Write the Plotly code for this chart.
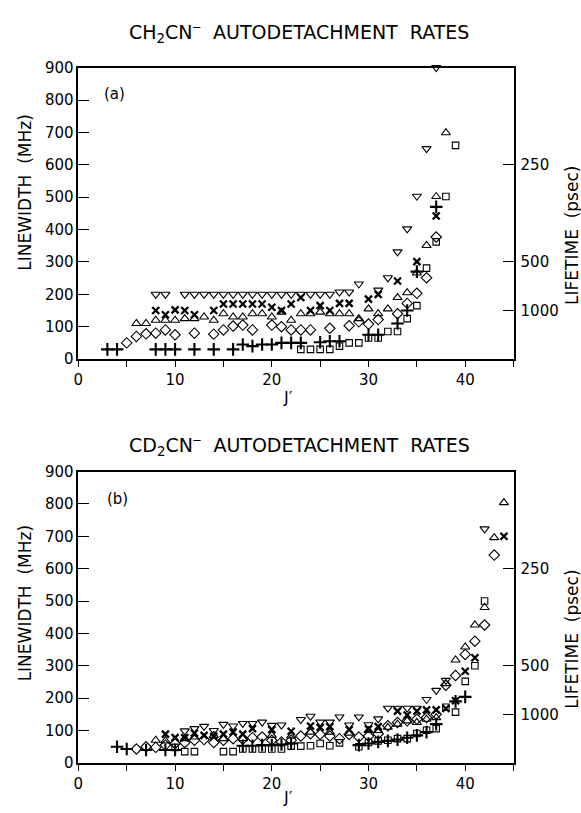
import plotly.graph_objects as go

W, H = 581, 813

# ---------------- data: panel (a) CH2CN- ----------------
a_tri_down_J = [8, 9, 11, 12, 13, 14, 15, 16, 17, 18, 19, 20, 21, 22, 23, 24, 25, 26, 27, 28, 29, 31, 32, 33, 34, 35, 36, 37]
a_tri_down_v = [200, 200, 200, 200, 200, 200, 200, 200, 200, 200, 200, 200, 200, 200, 200, 200, 200, 200, 207, 207, 232, 213, 251, 331, 402, 503, 650, 900]
a_x_J = [8, 9, 10, 11, 12, 14, 15, 16, 17, 18, 19, 20, 21, 22, 23, 24, 25, 26, 27, 28, 30, 31, 33, 35, 37]
a_x_v = [150, 137, 152, 150, 137, 150, 170, 170, 170, 170, 170, 160, 150, 170, 190, 150, 165, 150, 172, 172, 185, 200, 241, 301, 442]
a_tri_up_J = [6, 7, 8, 9, 10, 11, 12, 13, 14, 15, 16, 17, 18, 19, 20, 21, 22, 23, 24, 25, 26, 27, 28, 29, 30, 31, 32, 33, 34, 35, 36, 37, 38]
a_tri_up_v = [110, 110, 120, 120, 120, 125, 125, 130, 120, 140, 130, 130, 140, 140, 130, 145, 120, 140, 140, 145, 140, 140, 140, 125, 155, 140, 155, 190, 205, 266, 351, 502, 699]
a_dia_J = [5, 6, 7, 8, 9, 10, 12, 14, 15, 16, 17, 18, 20, 21, 22, 23, 24, 26, 28, 29, 30, 31, 33, 34, 35, 36, 37]
a_dia_v = [50, 70, 78, 80, 90, 75, 80, 77, 90, 102, 105, 90, 105, 100, 90, 90, 90, 95, 103, 115, 108, 122, 140, 172, 203, 251, 377]
a_plus_J = [3, 4, 8, 9, 10, 12, 14, 16, 17, 18, 19, 20, 21, 22, 23, 25, 26, 27, 30, 31, 33, 34, 35, 37]
a_plus_v = [30, 30, 30, 30, 30, 30, 30, 30, 45, 40, 45, 45, 50, 50, 50, 52, 55, 55, 75, 75, 110, 150, 270, 470]
a_sq_J = [23, 24, 25, 26, 27, 28, 29, 30, 31, 32, 33, 34, 35, 36, 37, 38, 39]
a_sq_v = [30, 30, 30, 30, 40, 50, 50, 65, 65, 85, 85, 125, 165, 281, 362, 502, 660]

# ---------------- data: panel (b) CD2CN- ----------------
b_tri_down_J = [11, 12, 13, 14, 15, 16, 17, 18, 19, 20, 21, 23, 24, 25, 26, 27, 28, 29, 30, 31, 32, 33, 34, 35, 36, 37, 38, 42]
b_tri_down_v = [99, 106, 113, 100, 119, 114, 122, 122, 126, 116, 117, 134, 144, 126, 126, 142, 117, 142, 118, 136, 169, 169, 169, 169, 196, 224, 255, 723]
b_x_J = [9, 10, 11, 12, 13, 14, 15, 16, 17, 18, 20, 22, 24, 25, 26, 28, 30, 31, 33, 34, 35, 36, 37, 38, 39, 40, 41, 44]
b_x_v = [89, 78, 78, 92, 85, 82, 89, 95, 89, 106, 103, 98, 114, 110, 112, 103, 105, 112, 160, 148, 160, 164, 164, 168, 192, 283, 325, 700]
b_tri_up_J = [8, 9, 11, 12, 14, 15, 17, 20, 22, 24, 26, 28, 30, 31, 32, 33, 34, 35, 36, 37, 38, 39, 40, 41, 42, 43, 44]
b_tri_up_v = [70, 68, 75, 80, 85, 75, 75, 85, 83, 95, 95, 92, 100, 100, 110, 120, 130, 125, 135, 140, 245, 318, 358, 426, 480, 696, 804]
b_dia_J = [6, 7, 8, 9, 10, 11, 12, 13, 14, 15, 16, 17, 18, 19, 20, 21, 22, 23, 24, 25, 26, 27, 28, 29, 30, 31, 32, 33, 34, 35, 36, 37, 38, 39, 40, 41, 42, 43]
b_dia_v = [43, 50, 48, 55, 60, 63, 70, 72, 63, 70, 75, 73, 78, 80, 70, 65, 70, 83, 90, 88, 83, 75, 88, 80, 83, 90, 115, 125, 130, 135, 140, 150, 240, 270, 335, 376, 426, 642]
b_plus_J = [4, 5, 7, 9, 10, 17, 18, 19, 20, 21, 22, 29, 30, 31, 32, 33, 34, 35, 36, 37, 39, 40]
b_plus_v = [50, 43, 40, 40, 40, 53, 53, 55, 55, 57, 60, 55, 60, 65, 68, 72, 78, 85, 95, 120, 190, 204]
b_sq_J = [10, 11, 12, 15, 16, 17, 18, 19, 20, 21, 22, 23, 24, 25, 26, 27, 29, 30, 31, 32, 33, 34, 35, 36, 37, 38, 39, 40, 41, 42]
b_sq_v = [48, 35, 35, 35, 35, 43, 43, 43, 43, 43, 52, 52, 53, 60, 53, 62, 50, 63, 68, 70, 75, 75, 91, 101, 106, 172, 157, 252, 300, 500]

# axis ticks
y_ticks = [0, 100, 200, 300, 400, 500, 600, 700, 800, 900]
x_ticks = [0, 10, 20, 30, 40]
life_tickvals = [150, 300, 600]      # linewidth (MHz) positions
life_ticktext = ["1000", "500", "250"]  # lifetime (psec)

titles = ["CH<sub>2</sub>CN<sup>\u2012</sup>  AUTODETACHMENT  RATES",
          "CD<sub>2</sub>CN<sup>\u2012</sup>  AUTODETACHMENT  RATES"]
panel_labels = ["(a)", "(b)"]

FONT = "DejaVu Sans"
BLACK = "black"


def px(x):
    return x / W


def py(y):
    return 1 - y / H


fig = go.Figure()

panels = [
    dict(xa="x", ya="y", y2="y2",
         series=[(a_tri_down_J, a_tri_down_v, "triangle-down-open", 8, 1.1),
                 (a_x_J, a_x_v, "x-thin", 7, 2.3),
                 (a_tri_up_J, a_tri_up_v, "triangle-up-open", 8, 1.1),
                 (a_dia_J, a_dia_v, "diamond-open", 8, 1.1),
                 (a_plus_J, a_plus_v, "cross-thin", 9, 2.1),
                 (a_sq_J, a_sq_v, "square-open", 6.5, 1.1)]),
    dict(xa="x2", ya="y3", y2="y4",
         series=[(b_tri_down_J, b_tri_down_v, "triangle-down-open", 8, 1.1),
                 (b_x_J, b_x_v, "x-thin", 7, 2.3),
                 (b_tri_up_J, b_tri_up_v, "triangle-up-open", 8, 1.1),
                 (b_dia_J, b_dia_v, "diamond-open", 8, 1.1),
                 (b_plus_J, b_plus_v, "cross-thin", 9, 2.1),
                 (b_sq_J, b_sq_v, "square-open", 6.5, 1.1)]),
]

for p in panels:
    for J, v, sym, size, lw in p["series"]:
        fig.add_trace(go.Scatter(
            x=J, y=v, mode="markers", xaxis=p["xa"], yaxis=p["ya"],
            cliponaxis=False, showlegend=False, hoverinfo="skip",
            marker=dict(symbol=sym, size=size, color=BLACK,
                        line=dict(color=BLACK, width=lw))))
    # empty trace so the right-hand lifetime axis is drawn
    fig.add_trace(go.Scatter(x=[None], y=[None], mode="markers", xaxis=p["xa"],
                             yaxis=p["y2"], showlegend=False, hoverinfo="skip"))

xdom = [px(74), px(513)]
ydoms = [[py(358), py(60)], [py(771), py(473)]]
tickfont = dict(family=FONT, size=15, color=BLACK)

common_x = dict(range=[0, 45], domain=xdom, tickmode="array", tickvals=x_ticks,
                ticks="outside", ticklen=6, tickwidth=1.2,
                minor=dict(ticks="outside", dtick=5, tick0=0, ticklen=6, tickwidth=1.2,
                           tickcolor=BLACK, showgrid=False),
                tickcolor=BLACK, showline=True, linecolor=BLACK, linewidth=1.5,
                mirror=True, showgrid=False, zeroline=False, tickfont=tickfont)
common_y = dict(range=[0, 900], tickmode="array", tickvals=y_ticks,
                ticks="inside", ticklen=11, tickwidth=1.2, tickcolor=BLACK,
                showline=True, linecolor=BLACK, linewidth=1.5, mirror=True,
                showgrid=False, zeroline=False, tickfont=tickfont)
common_y2 = dict(range=[0, 900], tickmode="array", tickvals=life_tickvals,
                 ticktext=life_ticktext, side="right", ticks="inside",
                 ticklen=11, tickwidth=1.2, tickcolor=BLACK, showline=False,
                 ticklabelstandoff=6,
                 showgrid=False, zeroline=False, tickfont=tickfont)

fig.update_layout(
    width=W, height=H, margin=dict(l=0, r=0, t=0, b=0),
    paper_bgcolor="white", plot_bgcolor="white",
    font=dict(family=FONT, color=BLACK),
    xaxis=dict(common_x, anchor="y"),
    xaxis2=dict(common_x, anchor="y3"),
    yaxis=dict(common_y, domain=ydoms[0], anchor="x"),
    yaxis2=dict(common_y2, domain=ydoms[0], anchor="x", overlaying="y"),
    yaxis3=dict(common_y, domain=ydoms[1], anchor="x2"),
    yaxis4=dict(common_y2, domain=ydoms[1], anchor="x2", overlaying="y3"),
)

ann = []
title_y = [24, 446]
lw_y = [188, 608]
lt_y = [232, 645]
j_y = [397, 806]
lab_xy = [(110, 87), (113, 501)]
for i in range(2):
    ann.append(dict(text=titles[i], x=px(297), y=py(title_y[i]), xref="paper", yref="paper",
                    showarrow=False, xanchor="center", yanchor="middle",
                    font=dict(family=FONT, size=19, color=BLACK)))
    ann.append(dict(text="LINEWIDTH  (MHz)", x=px(20), y=py(lw_y[i]), xref="paper", yref="paper",
                    showarrow=False, textangle=-90, xanchor="center", yanchor="middle",
                    font=dict(family=FONT, size=17, color=BLACK)))
    ann.append(dict(text="LIFETIME  (psec)", x=px(572), y=py(lt_y[i]), xref="paper", yref="paper",
                    showarrow=False, textangle=-90, xanchor="center", yanchor="middle",
                    font=dict(family=FONT, size=17, color=BLACK)))
    ann.append(dict(text="J\u2032", x=px(285), y=py(j_y[i]), xref="paper", yref="paper",
                    showarrow=False, xanchor="center", yanchor="middle",
                    font=dict(family=FONT, size=16, color=BLACK)))
    ann.append(dict(text=panel_labels[i], x=px(lab_xy[i][0]), y=py(lab_xy[i][1]), xref="paper",
                    yref="paper", showarrow=False, xanchor="center", yanchor="middle",
                    font=dict(family=FONT, size=15, color=BLACK)))
fig.update_layout(annotations=ann)

fig.write_html("out.html")
